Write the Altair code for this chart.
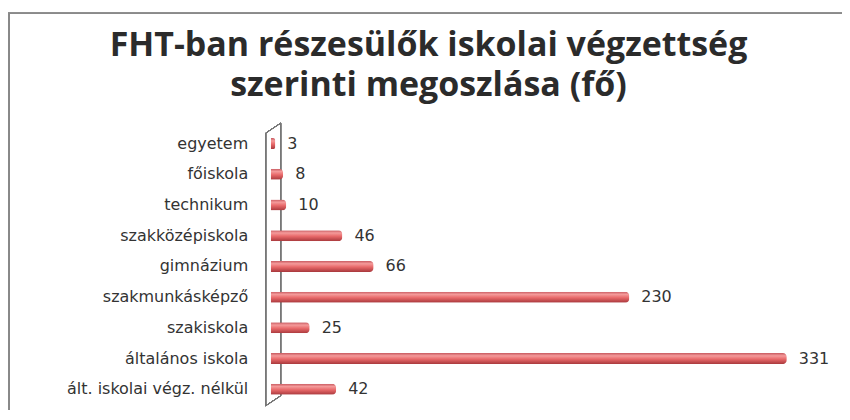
import altair as alt
import pandas as pd

categories = [
    "egyetem",
    "főiskola",
    "technikum",
    "szakközépiskola",
    "gimnázium",
    "szakmunkásképző",
    "szakiskola",
    "általános iskola",
    "ált. iskolai végz. nélkül",
]
values = [3, 8, 10, 46, 66, 230, 25, 331, 42]

title_lines = ["FHT-ban részesülők iskolai végzettség", "szerinti megoszlása (fő)"]

df = pd.DataFrame({"cat": categories, "val": values})

W = 562
H = 277
FONT = "DejaVu Sans"
TXT = "#333333"

x_enc = alt.X("val:Q", scale=alt.Scale(domain=[0, 360], nice=False), axis=None)
y_enc = alt.Y(
    "cat:N",
    sort=categories,
    scale=alt.Scale(paddingInner=0.3, paddingOuter=0.154),
    axis=alt.Axis(
        title=None,
        ticks=False,
        domain=False,
        grid=False,
        labelFont=FONT,
        labelFontSize=16,
        labelColor=TXT,
        labelPadding=23,
        labelLimit=300,
    ),
)

grad = alt.Gradient(
    gradient="linear",
    x1=0, x2=0, y1=0, y2=1,
    stops=[
        alt.GradientStop(color="#c85a60", offset=0),
        alt.GradientStop(color="#f49a9a", offset=0.25),
        alt.GradientStop(color="#e8696a", offset=0.55),
        alt.GradientStop(color="#a8383c", offset=1),
    ],
)

bars = alt.Chart(df).mark_bar(size=11, color=grad, cornerRadiusEnd=4).encode(x=x_enc, y=y_enc)

labels = alt.Chart(df).mark_text(
    align="left", baseline="middle", dx=12, font=FONT, fontSize=16, color=TXT
).encode(x=x_enc, y=y_enc, text=alt.Text("val:Q"))

# decorative 3D wall behind the category axis
wall_style = dict(color="#777777", strokeWidth=1)
wall = alt.layer(
    alt.Chart(df).mark_rule(**wall_style).encode(x=alt.value(-5), x2=alt.value(-5), y=alt.value(5), y2=alt.value(278)),
    alt.Chart(df).mark_rule(**wall_style).encode(x=alt.value(10), x2=alt.value(10), y=alt.value(-5), y2=alt.value(268)),
    alt.Chart(df).mark_rule(**wall_style).encode(x=alt.value(-5), x2=alt.value(10), y=alt.value(5), y2=alt.value(-5)),
    alt.Chart(df).mark_rule(**wall_style).encode(x=alt.value(-5), x2=alt.value(10), y=alt.value(278), y2=alt.value(268)),
)

# chart frame (top and left edges)
frame_style = dict(color="#8a8a8a", strokeWidth=1)
frame = alt.layer(
    alt.Chart(df).mark_rule(**frame_style).encode(x=alt.value(-263), x2=alt.value(580), y=alt.value(-115), y2=alt.value(-115)),
    alt.Chart(df).mark_rule(**frame_style).encode(x=alt.value(-262), x2=alt.value(-262), y=alt.value(-115), y2=alt.value(300)),
)

chart = alt.layer(frame, wall, bars, labels).properties(
    width=W,
    height=H,
    background="white",
    autosize=alt.AutoSizeParams(type="none"),
    padding={"left": 263, "top": 120, "right": 10, "bottom": 5},
    title=alt.TitleParams(
        text=title_lines,
        font="Open Sans",
        fontSize=34,
        fontWeight="bold",
        color="#2b2b2b",
        anchor="middle",
        frame="group",
        baseline="bottom",
        dx=-123,
        offset=-124,
        lineHeight=40,
    ),
).configure_view(strokeWidth=0, stroke="transparent")

chart.save("out.html", embed_options={"renderer": "svg", "actions": False})
